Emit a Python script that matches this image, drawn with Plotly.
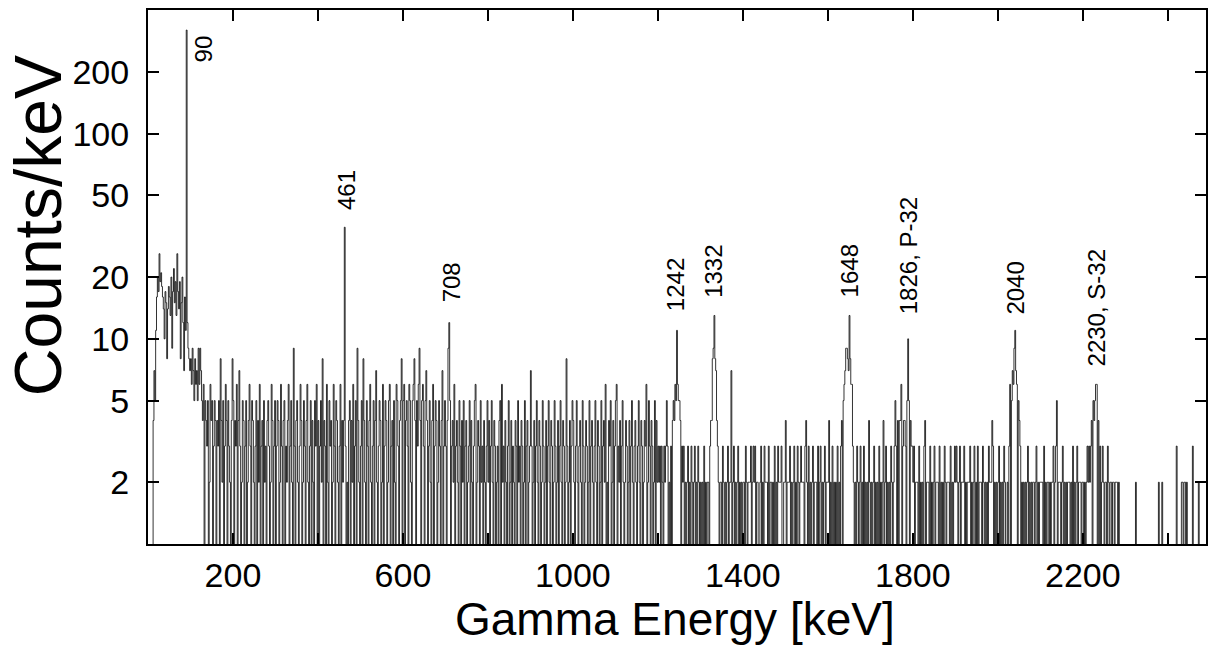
import numpy as np
import plotly.graph_objects as go

# ---------------- data (read/estimated from the picture) ----------------
bin_width_kev = 2

# counts per bin, 0 .. 98 keV (includes the 90 keV line)
low_energy_counts = [0, 0, 0, 0, 0, 0, 4, 7, 5, 11, 16, 20, 17, 26, 19, 21, 18, 16, 14, 10,
                     17, 15, 8, 14, 18, 16, 13, 20, 9, 17, 22, 15, 19, 13, 26, 17, 14, 19, 8, 15,
                     20, 12, 7, 16, 11, 320, 12, 9, 8, 7]

# counts per 2 keV bin, one string per 100 keV, from 100 keV to 2500 keV
background_digits_by_100kev = [
    "8697586759 6975460543 5026450354 0435084250 3640532048",  # 100
    "5043604730 2540350246 3054203504 2603405230 4530264035",  # 200
    "0354026304 5032460352 0930452036 4025304620 3504205360",  # 300
    "4035280430 6205340263 0542036042 4330204504 2603509420",  # 400
    "3508420530 4620350472 0354026035 4025603405 2065304580",  # 500
    "5604530652 0568405369 4056305740 3520460354 0253047035",  # 600
    "3049950342 6034205304 2503402350 4203560243 0523042035",  # 700
    "2403520430 2304506230 4203502403 2043052304 3025034023",  # 800
    "7302403520 4302530240 3520430253 0240352043 0283024035",  # 900
    "4203520342 0530243025 0342035204 3025034260 2043502403",  # 1000
    "5603240352 0243024035 2034203520 4302436025 3043025042",  # 1100
    "3230320323 5302030454 6596554032 3020230203 2023020320",  # 1200
    "2020302022 0344899874 3202203202 0230227023 0202302020",  # 1300
    "2203202223 0232302200 2302032220 3022020302 0322230022",  # 1400
    "4022230202 3020320232 2203420302 0230222030 2302023022",  # 1500
    "2402030202 0302034056 7998798663 2020320230 2030202042",  # 1600
    "0202302020 3020240230 2020320235 3040446034 4305950433",  # 1700
    "2302220302 0203402220 3020230222 0302020320 2220302023",  # 1800
    "2320230222 3020222302 0230203022 2032020203 2224302020",  # 1900
    "2302020320 0203605769 9760543020 2020230202 0220230202",  # 2000
    "2220302022 0202230235 0222023020 2022202030 2023022202",  # 2100
    "2020232323 4054566040 3023202203 2022022022 2020000000",  # 2200
    "0000000000 0020000000 0000000000 0000000002 0002000001",  # 2300
    "0000000000 3000002202 2020000003 0000002000 0000000000",  # 2400
]

# line tops above 9 counts
peak_energies_kev = [462, 708, 1244, 1332, 1650, 1788, 2040]
peak_counts = [35, 12, 11, 13, 13, 10, 11]

# peak labels: text, energy position, label base (counts/keV)
label_texts = ["90", "461", "708", "1242", "1332", "1648", "1826, P-32", "2040", "2230, S-32"]
label_x_kev = [130, 467, 715, 1240, 1331, 1650, 1790, 2041, 2233]
label_base_counts = [217, 41.7, 14.7, 13.4, 15.5, 15.5, 12.9, 12.8, 7.2]

x_tick_values = [200, 400, 600, 800, 1000, 1200, 1400, 1600, 1800, 2000, 2200, 2400]
x_tick_labels = ["200", "", "600", "", "1000", "", "1400", "", "1800", "", "2200", ""]
y_tick_values = [2, 5, 10, 20, 50, 100, 200]
y_tick_labels = ["2", "5", "10", "20", "50", "100", "200"]

# ---------------- assemble histogram ----------------
counts = list(low_energy_counts)
for chunk in background_digits_by_100kev:
    digits = chunk.replace(" ", "")
    assert len(digits) == 50, (chunk, len(digits))
    counts.extend(int(c) for c in digits)
counts = np.array(counts, dtype=float)
for e, c in zip(peak_energies_kev, peak_counts):
    counts[e // bin_width_kev] = c

edges = np.arange(len(counts) + 1) * bin_width_kev
y_plot = np.where(counts > 0, counts, 0.3)  # empty bins drop below the axis on log scale
y_plot = np.append(y_plot, y_plot[-1])

fig = go.Figure()
fig.add_trace(go.Scatter(
    x=edges, y=y_plot, mode="lines",
    line=dict(shape="hv", color="rgba(0,0,0,0.8)", width=1, simplify=False),
    hoverinfo="skip", showlegend=False,
))

FONT = "Liberation Sans, Arial, Helvetica, sans-serif"

annotations = []
for t, xk, yb in zip(label_texts, label_x_kev, label_base_counts):
    annotations.append(dict(
        x=xk, y=np.log10(yb), xref="x", yref="y", text=t, showarrow=False,
        textangle=-90, xanchor="center", yanchor="bottom",
        font=dict(family=FONT, size=24, color="black"),
    ))

# axis titles
annotations.append(dict(
    x=-0.1040, y=0.597, xref="paper", yref="paper", text="Counts/keV", showarrow=False,
    textangle=-90, xanchor="center", yanchor="middle",
    font=dict(family=FONT, size=66, color="black"),
))
annotations.append(dict(
    x=0.498, y=-0.1404, xref="paper", yref="paper", text="Gamma Energy [keV]", showarrow=False,
    xanchor="center", yanchor="middle",
    font=dict(family=FONT, size=46, color="black"),
))

fig.update_layout(
    width=1215, height=647,
    margin=dict(l=148, r=7, t=10, b=103),
    paper_bgcolor="white", plot_bgcolor="white",
    annotations=annotations,
    font=dict(family=FONT, color="black"),
)
fig.update_xaxes(
    range=[0, 2490], tickmode="array", tickvals=x_tick_values, ticktext=x_tick_labels,
    ticks="inside", ticklen=11, tickwidth=1.5, tickcolor="black",
    showline=True, linecolor="black", linewidth=2, mirror="allticks",
    showgrid=False, zeroline=False,
    tickfont=dict(family=FONT, size=34, color="black"),
)
fig.update_yaxes(
    type="log", range=[0, 2.603], tickmode="array", tickvals=y_tick_values, ticktext=y_tick_labels,
    ticks="inside", ticklen=11, tickwidth=1.5, tickcolor="black",
    showline=True, linecolor="black", linewidth=2, mirror="allticks",
    showgrid=False, zeroline=False, ticklabelstandoff=10,
    tickfont=dict(family=FONT, size=34, color="black"),
)

fig.write_html("out.html")
